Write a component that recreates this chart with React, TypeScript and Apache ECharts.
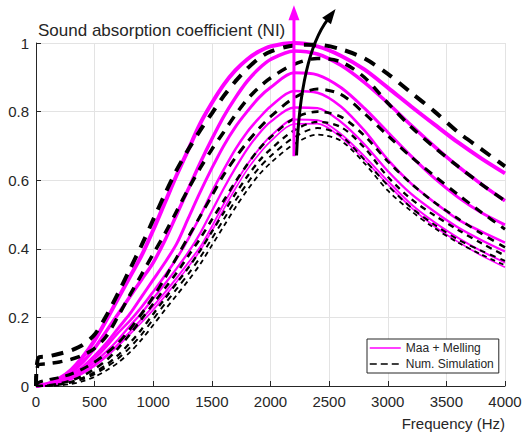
import React, { useEffect, useRef } from "react";
import * as echarts from "echarts";

// Frequency grid (Hz)
const FREQ = [0, 20, 100, 200, 300, 400, 500, 600, 700, 800, 900, 1000, 1100, 1200, 1300, 1400, 1500, 1600, 1700, 1800, 1900, 2000, 2200, 2400, 2600, 2800, 3000, 3200, 3400, 3600, 3800, 4000];

// Maa + Melling (magenta, solid)
const MAA_1 = [0, 0.001, 0.006, 0.022, 0.047, 0.085, 0.133, 0.192, 0.255, 0.318, 0.38, 0.455, 0.535, 0.615, 0.69, 0.765, 0.825, 0.878, 0.92, 0.952, 0.975, 0.99, 1.0, 0.99, 0.963, 0.923, 0.87, 0.815, 0.762, 0.71, 0.663, 0.62];
const MAA_2 = [0, 0.001, 0.005, 0.018, 0.04, 0.07, 0.11, 0.16, 0.21, 0.26, 0.31, 0.36, 0.425, 0.5, 0.575, 0.65, 0.72, 0.785, 0.84, 0.888, 0.925, 0.952, 0.977, 0.968, 0.935, 0.885, 0.825, 0.76, 0.698, 0.64, 0.588, 0.54];
const MAA_3 = [0, 0.001, 0.004, 0.014, 0.032, 0.056, 0.088, 0.125, 0.168, 0.21, 0.26, 0.31, 0.36, 0.415, 0.49, 0.565, 0.635, 0.7, 0.755, 0.8, 0.84, 0.87, 0.913, 0.907, 0.87, 0.81, 0.74, 0.67, 0.605, 0.55, 0.505, 0.47];
const MAA_4 = [0, 0.001, 0.003, 0.012, 0.028, 0.05, 0.08, 0.115, 0.155, 0.19, 0.23, 0.275, 0.322, 0.372, 0.43, 0.495, 0.565, 0.63, 0.69, 0.74, 0.78, 0.815, 0.86, 0.855, 0.815, 0.745, 0.66, 0.59, 0.535, 0.485, 0.45, 0.418];
const MAA_5 = [0, 0.001, 0.003, 0.01, 0.024, 0.044, 0.07, 0.1, 0.135, 0.175, 0.213, 0.255, 0.298, 0.343, 0.39, 0.445, 0.51, 0.575, 0.635, 0.69, 0.735, 0.77, 0.812, 0.81, 0.77, 0.705, 0.627, 0.56, 0.508, 0.462, 0.425, 0.392];
const MAA_6 = [0, 0.001, 0.003, 0.009, 0.021, 0.039, 0.062, 0.09, 0.122, 0.158, 0.195, 0.233, 0.273, 0.315, 0.36, 0.405, 0.465, 0.53, 0.59, 0.645, 0.69, 0.728, 0.777, 0.775, 0.735, 0.67, 0.598, 0.53, 0.477, 0.432, 0.393, 0.36];
const MAA_7 = [0, 0.001, 0.002, 0.008, 0.019, 0.036, 0.058, 0.085, 0.116, 0.15, 0.185, 0.222, 0.262, 0.304, 0.348, 0.395, 0.452, 0.515, 0.575, 0.63, 0.675, 0.713, 0.764, 0.765, 0.725, 0.66, 0.588, 0.52, 0.465, 0.42, 0.38, 0.346];

// Num. Simulation (black, dashed)
const SIM_1 = [0, 0.082, 0.086, 0.094, 0.104, 0.12, 0.15, 0.205, 0.27, 0.34, 0.41, 0.485, 0.56, 0.63, 0.69, 0.745, 0.795, 0.845, 0.888, 0.925, 0.955, 0.975, 0.993, 0.995, 0.982, 0.955, 0.91, 0.855, 0.8, 0.74, 0.69, 0.64];
const SIM_2 = [0, 0.062, 0.065, 0.07, 0.078, 0.09, 0.11, 0.145, 0.203, 0.265, 0.325, 0.385, 0.445, 0.51, 0.575, 0.635, 0.69, 0.74, 0.79, 0.835, 0.87, 0.898, 0.938, 0.955, 0.945, 0.9, 0.825, 0.755, 0.695, 0.64, 0.588, 0.54];
const SIM_3 = [0, 0.01, 0.018, 0.025, 0.035, 0.05, 0.07, 0.095, 0.125, 0.165, 0.21, 0.26, 0.315, 0.375, 0.435, 0.495, 0.555, 0.615, 0.665, 0.71, 0.75, 0.785, 0.84, 0.866, 0.85, 0.795, 0.73, 0.668, 0.612, 0.558, 0.506, 0.457];
const SIM_4 = [0, 0, 0.002, 0.007, 0.016, 0.03, 0.05, 0.075, 0.11, 0.15, 0.195, 0.24, 0.285, 0.33, 0.38, 0.43, 0.485, 0.54, 0.595, 0.645, 0.69, 0.725, 0.78, 0.8, 0.785, 0.73, 0.655, 0.59, 0.535, 0.488, 0.444, 0.404];
const SIM_5 = [0, 0, 0.001, 0.005, 0.012, 0.024, 0.04, 0.062, 0.09, 0.125, 0.165, 0.21, 0.255, 0.3, 0.345, 0.395, 0.45, 0.505, 0.56, 0.61, 0.655, 0.69, 0.745, 0.77, 0.755, 0.695, 0.61, 0.545, 0.497, 0.455, 0.416, 0.38];
const SIM_6 = [0, 0, 0.001, 0.004, 0.01, 0.02, 0.035, 0.055, 0.08, 0.112, 0.15, 0.195, 0.24, 0.283, 0.327, 0.375, 0.43, 0.485, 0.54, 0.59, 0.635, 0.67, 0.725, 0.752, 0.73, 0.66, 0.585, 0.52, 0.47, 0.427, 0.394, 0.365];
const SIM_7 = [0, 0, 0, 0.002, 0.006, 0.014, 0.027, 0.045, 0.068, 0.098, 0.135, 0.178, 0.222, 0.265, 0.308, 0.355, 0.41, 0.465, 0.52, 0.57, 0.615, 0.65, 0.705, 0.733, 0.715, 0.65, 0.57, 0.51, 0.46, 0.418, 0.383, 0.352];

const MAA_SERIES = [MAA_1, MAA_2, MAA_3, MAA_4, MAA_5, MAA_6, MAA_7];
const SIM_SERIES = [SIM_1, SIM_2, SIM_3, SIM_4, SIM_5, SIM_6, SIM_7];

const MAA_NAME = "Maa + Melling";
const SIM_NAME = "Num. Simulation";
const X_LABEL = "Frequency (Hz)";
const Y_LABEL = "Sound absorption coefficient (NI)";

// Annotation arrows (data coordinates)
const ARROW_UP = [[2200, 0.67], [2200, 1.11]];
const ARROW_CURVED = [[2222, 0.672], [2256, 0.963], [2555, 1.099]];

// Styles
const MAA_WIDTHS = [4, 3.5, 3, 2.6, 2.3, 1.9, 1.6];
const SIM_WIDTHS = [4, 3.5, 3, 2.6, 2.3, 2, 1.8];
const SIM_DASHES = [[12, 9], [10, 8], [9, 7], [7, 6], [6, 5], [6, 5], [5, 4]];
const FONT = "'Liberation Sans', Arial, Helvetica, sans-serif";
const INK = "#262626";
const MAGENTA = "#ff00ff";

function arrowHead(tip: number[], from: number[], len: number, wid: number) {
  const dx = tip[0] - from[0];
  const dy = tip[1] - from[1];
  const d = Math.hypot(dx, dy) || 1;
  const ux = dx / d, uy = dy / d;
  const nx = -uy, ny = ux;
  const bx = tip[0] - ux * len, by = tip[1] - uy * len;
  return {
    points: [
      [tip[0], tip[1]],
      [bx + nx * wid / 2, by + ny * wid / 2],
      [bx - nx * wid / 2, by - ny * wid / 2],
    ],
    base: [bx + ux * 2, by + uy * 2],
  };
}

export default function App() {
  const ref = useRef<HTMLDivElement>(null);
  useEffect(() => {
    if (!ref.current) return;
    const chart = echarts.init(ref.current, null, { renderer: "svg" });
    const series: any[] = [];
    MAA_SERIES.forEach((arr, i) => {
      series.push({
        name: MAA_NAME,
        type: "line",
        data: FREQ.map((f, j) => [f, arr[j]]),
        symbol: "none",
        showSymbol: false,
        smooth: 0.3,
        lineStyle: { color: MAGENTA, width: MAA_WIDTHS[i] },
        itemStyle: { color: MAGENTA },
        z: 2,
      });
    });
    SIM_SERIES.forEach((arr, i) => {
      series.push({
        name: SIM_NAME,
        type: "line",
        data: FREQ.map((f, j) => [f, arr[j]]),
        symbol: "none",
        showSymbol: false,
        smooth: 0.3,
        lineStyle: { color: "#000", width: SIM_WIDTHS[i], type: SIM_DASHES[i] },
        itemStyle: { color: "#000" },
        z: 3,
      });
    });

    chart.setOption({
      animation: false,
      backgroundColor: "#fff",
      grid: { left: 36, top: 43, width: 469, height: 343, containLabel: false },
      xAxis: {
        type: "value",
        min: 0,
        max: 4000,
        interval: 500,
        axisLine: { lineStyle: { color: INK, width: 1 } },
        axisTick: { inside: true, length: 5, lineStyle: { color: INK } },
        axisLabel: { color: INK, fontSize: 15, fontFamily: FONT, margin: 8, formatter: (v: number) => String(v) },
        splitLine: { show: true, lineStyle: { color: "#e3e3e3", width: 1 } },
      },
      yAxis: {
        type: "value",
        min: 0,
        max: 1,
        interval: 0.2,
        axisLine: { show: true, lineStyle: { color: INK, width: 1 } },
        axisTick: { show: true, inside: true, length: 5, lineStyle: { color: INK } },
        axisLabel: { color: INK, fontSize: 15, fontFamily: FONT, margin: 7 },
        splitLine: { show: true, lineStyle: { color: "#e3e3e3", width: 1 } },
      },
      legend: {
        orient: "vertical",
        left: 367,
        top: 339,
        padding: [3, 5, 3, 2],
        itemWidth: 31,
        itemHeight: 12,
        itemGap: 4,
        borderColor: INK,
        borderWidth: 1,
        backgroundColor: "#fff",
        textStyle: { fontFamily: FONT, fontSize: 12, color: INK },
        data: [
          { name: MAA_NAME, itemStyle: { opacity: 0 }, lineStyle: { width: 1.5, color: MAGENTA } },
          { name: SIM_NAME, itemStyle: { opacity: 0 }, lineStyle: { width: 1.5, color: "#000", type: [7, 4] } },
        ],
      },
      series,
    });

    const up0 = chart.convertToPixel({ gridIndex: 0 }, ARROW_UP[0]) as number[];
    const up1 = chart.convertToPixel({ gridIndex: 0 }, ARROW_UP[1]) as number[];
    const c0 = chart.convertToPixel({ gridIndex: 0 }, ARROW_CURVED[0]) as number[];
    const c1 = chart.convertToPixel({ gridIndex: 0 }, ARROW_CURVED[1]) as number[];
    const c2 = chart.convertToPixel({ gridIndex: 0 }, ARROW_CURVED[2]) as number[];

    const upHead = arrowHead(up1, up0, 15, 11);
    const cHead = arrowHead(c2, c1, 15, 11);

    chart.setOption({
      graphic: [
        {
          type: "line",
          z: 100,
          shape: { x1: up0[0], y1: up0[1], x2: upHead.base[0], y2: upHead.base[1] },
          style: { stroke: MAGENTA, lineWidth: 3 },
        },
        {
          type: "polygon",
          z: 100,
          shape: { points: upHead.points },
          style: { fill: MAGENTA },
        },
        {
          type: "bezierCurve",
          z: 100,
          shape: { x1: c0[0], y1: c0[1], cpx1: c1[0], cpy1: c1[1], x2: cHead.base[0], y2: cHead.base[1] },
          style: { stroke: "#000", lineWidth: 3, fill: null },
        },
        {
          type: "polygon",
          z: 100,
          shape: { points: cHead.points },
          style: { fill: "#000" },
        },
        {
          type: "text",
          z: 100,
          style: { x: 38, y: 30, text: Y_LABEL, font: `17px ${FONT}`, fill: INK, verticalAlign: "middle", align: "left" },
        },
        {
          type: "text",
          z: 100,
          style: { x: 505, y: 423, text: X_LABEL, font: `15px ${FONT}`, fill: INK, verticalAlign: "middle", align: "right" },
        },
      ],
    });

    return () => chart.dispose();
  }, []);
  return (
    <div
      ref={ref}
      style={{ position: "fixed", left: 0, top: 0, width: 530, height: 432, background: "#fff" }}
    />
  );
}
